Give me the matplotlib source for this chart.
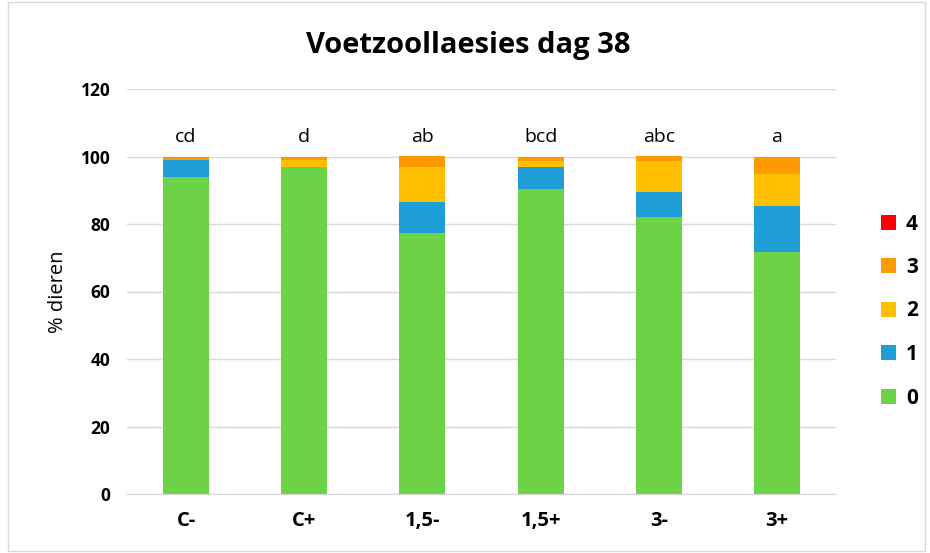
import matplotlib.pyplot as plt
from matplotlib.patches import Rectangle

groups = ['C-', 'C+', '1,5-', '1,5+', '3-', '3+']
score0 = [94.0, 97.0, 77.2, 90.5, 82.2, 71.8]
score1 = [5.0, 0.0, 9.2, 6.3, 7.2, 13.5]
score2 = [0.0, 2.0, 10.4, 2.0, 9.4, 9.5]
score3 = [1.0, 1.0, 3.2, 1.2, 1.2, 5.2]
score4 = [0.0, 0.0, 0.0, 0.0, 0.0, 0.0]
letters = ['cd', 'd', 'ab', 'bcd', 'abc', 'a']

series = [('0', score0, '#6CD246'),
          ('1', score1, '#1E9DD7'),
          ('2', score2, '#FFC000'),
          ('3', score3, '#FF9900'),
          ('4', score4, '#FF0000')]

plt.rcParams['font.family'] = ['Open Sans', 'DejaVu Sans']

fig = plt.figure(figsize=(9.3, 5.53), dpi=100)
ax = fig.add_axes([127 / 930, 1 - 494 / 553, (836 - 127) / 930, (494 - 89) / 553])

x = range(len(groups))
bottom = [0.0] * len(groups)
handles = []
for name, vals, color in series:
    b = ax.bar(x, vals, width=0.39, bottom=bottom, color=color, label=name, zorder=3)
    handles.append(b)
    bottom = [bo + v for bo, v in zip(bottom, vals)]

for i, lab in enumerate(letters):
    ax.text(i, 104.2, lab, ha='center', va='baseline', fontsize=14)

ax.set_ylim(0, 120)
ax.set_xlim(-0.5, len(groups) - 0.5)
ax.set_yticks(range(0, 121, 20))
ax.set_xticks(list(x))
ax.set_xticklabels(groups, fontsize=14.5, fontweight='bold')
for t in ax.get_yticklabels():
    t.set_fontweight('bold')
    t.set_fontsize(12.5)
ax.tick_params(axis='both', length=0, pad=12)
ax.tick_params(axis='x', pad=12)
ax.yaxis.grid(True, color='#D9D9D9', linewidth=1, zorder=0)
for s in ['top', 'right', 'left']:
    ax.spines[s].set_visible(False)
ax.spines['bottom'].set_color('#D9D9D9')
ax.spines['bottom'].set_zorder(4)
ax.set_ylabel('% dieren', fontsize=14.5, labelpad=9)

fig.text(468 / 930, 1 - 45 / 553, 'Voetzoollaesies dag 38', ha='center', va='center',
         fontsize=21, fontweight='bold')

leg = fig.legend(handles[::-1], [s[0] for s in series][::-1], loc='center left',
                 bbox_to_anchor=(862 / 930, 1 - 311 / 553), frameon=False,
                 handlelength=0.75, handleheight=0.75, labelspacing=1.08,
                 handletextpad=0.45, prop={'weight': 'bold', 'size': 15})

fig.patches.append(Rectangle((8 / 930, 2 / 553), 917 / 930, 549 / 553, transform=fig.transFigure,
                             fill=False, edgecolor='#D9D9D9', linewidth=1))

fig.savefig('out.png', dpi=100)
